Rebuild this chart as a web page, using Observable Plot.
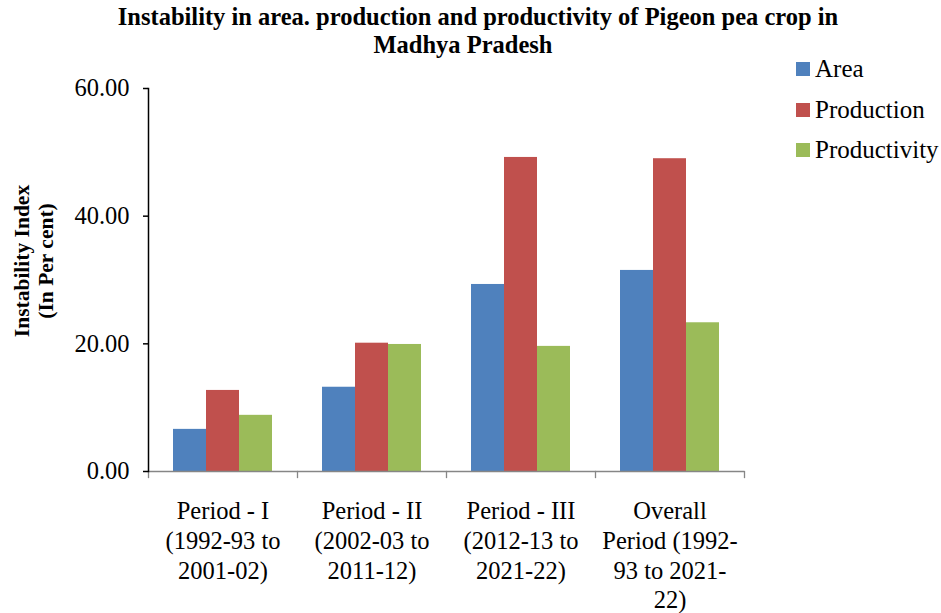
<!DOCTYPE html>
<html>
<head>
<meta charset="utf-8">
<script src="https://cdn.jsdelivr.net/npm/d3@7"></script>
<script src="https://cdn.jsdelivr.net/npm/@observablehq/plot@0.6"></script>
<style>
  html, body { margin: 0; padding: 0; background: #fff; }
  #wrap { position: relative; width: 941px; height: 613px; font-family: "Liberation Serif", "Times New Roman", serif; color: #000; }
  .title { position: absolute; font-weight: bold; font-size: 24.5px; line-height: 28px; white-space: nowrap; text-align: center; }
  #legend { position: absolute; left: 796px; top: 49px; font-size: 25px; }
  .lrow { display: flex; align-items: center; height: 40.5px; }
  .lsw { width: 14px; height: 14px; margin-right: 5px; }
</style>
</head>
<body>
<div id="wrap"></div>
<script>
const titleLines = ["Instability in area. production and productivity of Pigeon pea crop in", "Madhya Pradesh"];
const yLabel = "Instability Index\n(In Per cent)";
const periods = ["Period - I", "Period - II", "Period - III", "Overall"];
const periodLabels = ["Period - I\n(1992-93 to\n2001-02)", "Period - II\n(2002-03 to\n2011-12)", "Period - III\n(2012-13 to\n2021-22)", "Overall\nPeriod (1992-\n93 to 2021-\n22)"];
const seriesNames = ["Area", "Production", "Productivity"];
const areaValues = [6.6, 13.2, 29.3, 31.5];
const productionValues = [12.7, 20.1, 49.2, 49.0];
const productivityValues = [8.8, 19.9, 19.6, 23.3];
const yTicks = [0, 20, 40, 60];
const seriesColors = ["#4F81BD", "#C0504D", "#9BBB59"];

const seriesValues = [areaValues, productionValues, productivityValues];
const rows = [];
periods.forEach((p, i) => seriesNames.forEach((s, j) => rows.push({period: p, series: s, value: seriesValues[j][i]})));
const labelOf = new Map(periods.map((p, i) => [p, periodLabels[i]]));

const W = 941, H = 613, ML = 147, MR = 197, MT = 88, MB = 142;
const plotH = H - MT - MB;

const chart = Plot.plot({
  width: W, height: H,
  marginLeft: ML, marginRight: MR, marginTop: MT, marginBottom: MB,
  style: {fontFamily: "'Liberation Serif', 'Times New Roman', serif", fontSize: "24.5px", color: "#000", background: "transparent", overflow: "visible"},
  fx: {domain: periods, padding: 0, axis: null},
  x: {domain: seriesNames, paddingInner: 0, paddingOuter: 0.75, axis: null},
  y: {domain: [0, 60], axis: null},
  color: {domain: seriesNames, range: seriesColors},
  marks: [
    Plot.barY(rows, {fx: "period", x: "series", y: "value", fill: "series"}),
    Plot.ruleY([0], {stroke: "#868686", strokeWidth: 1.3}),
    Plot.frame({anchor: "left", stroke: "#868686", strokeWidth: 1.3, insetTop: plotH, insetBottom: -6}),
    Plot.frame({anchor: "right", facetAnchor: "right", stroke: "#868686", strokeWidth: 1.3, insetTop: plotH, insetBottom: -6}),
    Plot.frame({anchor: "left", facetAnchor: "left", stroke: "#000", strokeWidth: 1.5}),
    Plot.axisY({ticks: yTicks, tickFormat: d3.format(".2f"), tickSize: 5, tickPadding: 14, fontSize: 24.5, label: null, stroke: "#000", strokeWidth: 1.5, facetAnchor: "left"}),
    Plot.axisFx({anchor: "bottom", tickSize: 0, tickPadding: 26, tickFormat: d => labelOf.get(d), fontSize: 24.5, lineHeight: 1.22, label: null}),
    Plot.text([yLabel], {text: d => d, frameAnchor: "left", textAnchor: "middle", dx: -115, dy: -19, rotate: -90, fontWeight: "bold", fontSize: 21.5, lineHeight: 1.1, facetAnchor: "left"})
  ]
});

const wrap = document.getElementById("wrap");
wrap.appendChild(chart);

const t1 = document.createElement("div");
t1.className = "title"; t1.textContent = titleLines[0];
t1.style.left = "0px"; t1.style.width = (478 * 2) + "px"; t1.style.top = "3px";
wrap.appendChild(t1);
const t2 = document.createElement("div");
t2.className = "title"; t2.textContent = titleLines[1];
t2.style.left = "0px"; t2.style.width = (463 * 2) + "px"; t2.style.top = "31px";
wrap.appendChild(t2);

const legend = document.createElement("div");
legend.id = "legend";
seriesNames.forEach((s, i) => {
  const row = document.createElement("div"); row.className = "lrow";
  const sw = document.createElement("div"); sw.className = "lsw"; sw.style.background = seriesColors[i];
  const tx = document.createElement("span"); tx.textContent = s;
  row.appendChild(sw); row.appendChild(tx); legend.appendChild(row);
});
wrap.appendChild(legend);
</script>
</body>
</html>
